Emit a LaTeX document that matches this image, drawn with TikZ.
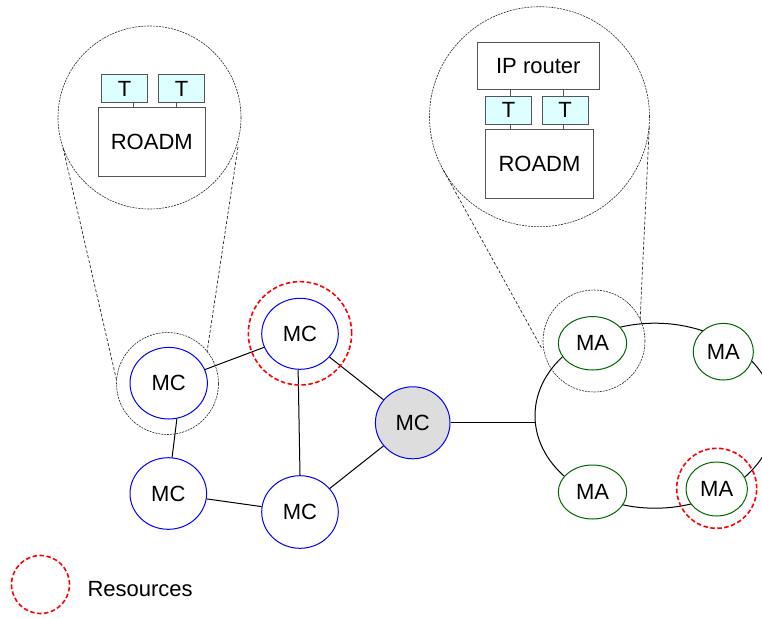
\documentclass[tikz,border=0pt]{standalone}
\usepackage{fontspec}
\setmainfont{Liberation Sans}
\usetikzlibrary{shapes.geometric}
\definecolor{mcblue}{RGB}{0,0,255}
\definecolor{magreen}{RGB}{0,102,0}
\definecolor{tcyan}{RGB}{221,255,255}
\definecolor{boxgray}{RGB}{85,85,85}
\definecolor{mcgray}{RGB}{221,221,221}
\begin{document}
\begin{tikzpicture}[x=1pt,y=-1pt, font=\fontsize{22}{26}\selectfont,
  mc/.style={ellipse, draw=mcblue, line width=1pt, fill=white, inner sep=0pt},
  ma/.style={ellipse, draw=magreen, line width=1pt, fill=white, inner sep=0pt},
  res/.style={circle, draw=red, line width=1.6pt, dash pattern=on 4.5pt off 2.5pt, inner sep=0pt},
  mag/.style={circle, draw=black!85, line width=0.6pt, dash pattern=on 2pt off 1pt, inner sep=0pt},
  magline/.style={draw=black!85, line width=0.7pt, dash pattern=on 3pt off 2pt},
  link/.style={draw=black, line width=1pt},
  thin link/.style={draw=boxgray, line width=0.8pt},
  tbox/.style={rectangle, draw=boxgray, fill=tcyan, line width=0.8pt, minimum width=46.4pt, minimum height=28pt, inner sep=0pt},
  devbox/.style={rectangle, draw=boxgray, fill=white, line width=0.8pt, inner sep=0pt},
]
\useasboundingbox (0,0) rectangle (762,618);
\clip (0,0) rectangle (762,618);

% ring of MA nodes
\node[ellipse, draw=black, line width=1pt, minimum width=240pt, minimum height=185pt, inner sep=0pt] (ring) at (655,415.7) {};
\node[ma, minimum width=68.4pt, minimum height=53.4pt] (MA1) at (592.5,343.3) {MA};
\node[ma, minimum width=60pt, minimum height=56.6pt] (MA2) at (723.3,351.7) {MA};
\node[ma, minimum width=68.4pt, minimum height=54pt] (MA3) at (592.5,492) {MA};
\node[ma, minimum width=61.4pt, minimum height=54pt] (MA4) at (716.7,489) {MA};

% MC nodes
\node[mc, minimum width=77.4pt, minimum height=71.6pt] (MC1) at (168.7,383.2) {MC};
\node[mc, minimum width=76.6pt, minimum height=71pt] (MC2) at (300,333.8) {MC};
\node[mc, fill=mcgray, minimum width=74.6pt, minimum height=72pt] (MC3) at (412.7,422.8) {MC};
\node[mc, minimum width=76.6pt, minimum height=71.6pt] (MC4) at (168.3,493.5) {MC};
\node[mc, minimum width=76.6pt, minimum height=72.6pt] (MC5) at (300,512) {MC};

\draw[link] (MC1) -- (MC2);
\draw[link] (MC1.-77) -- (MC4.84);
\draw[link] (MC2.-93) -- (MC5.90);
\draw[link] (MC2) -- (MC3);
\draw[link] (MC3) -- (MC5);
\draw[link] (MC4) -- (MC5);
\draw[link] (MC3.east) -- (MC3.east -| ring.west);

% small magnifier circles
\node[mag, minimum size=102pt] (zoomL) at (167.5,383.5) {};
\node[mag, minimum size=102pt] (zoomR) at (594,341) {};

% big magnifier circles
\node[mag, minimum size=183pt] (bigL) at (149.5,117.5) {};
\node[mag, minimum size=220pt] (bigR) at (539.5,116.7) {};

% magnifier lines
\coordinate (lA1) at (63,148);   \coordinate (lA2) at (116.5,380);
\coordinate (lB1) at (238,147);  \coordinate (lB2) at (207,352);
\coordinate (rA1) at (443.3,170); \coordinate (rA2) at (541.7,348.3);
\coordinate (rB1) at (649.3,126.7); \coordinate (rB2) at (640,321.7);
\draw[magline] (lA1) -- (lA2);
\draw[magline] (lB1) -- (lB2);
\draw[magline] (rA1) -- (rA2);
\draw[magline] (rB1) -- (rB2);

% left device
\node[devbox, minimum width=107pt, minimum height=69.4pt] (roadmL) at (151.8,142) {ROADM};
\node[tbox] (TL1) at (124.5,88.7) {T};
\node[tbox] (TL2) at (181.5,88.7) {T};
\draw[thin link] ([xshift=9pt]TL1.south) -- ([xshift=9pt]TL1.south |- roadmL.north);
\draw[thin link] ([xshift=-5.5pt]TL2.south) -- ([xshift=-5.5pt]TL2.south |- roadmL.north);

% right device
\node[devbox, minimum width=121.3pt, minimum height=46.6pt] (ipR) at (538.3,66) {IP router};
\node[tbox, minimum height=28.3pt] (TR1) at (508.5,110.2) {T};
\node[tbox, minimum height=28.3pt] (TR2) at (565.2,110.2) {T};
\node[devbox, minimum width=107.6pt, minimum height=69.3pt] (roadmR) at (539.5,163.7) {ROADM};
\draw[thin link] ([xshift=2pt]TR1.north) -- ([xshift=2pt]TR1.north |- ipR.south);
\draw[thin link] ([xshift=-1.5pt]TR2.north) -- ([xshift=-1.5pt]TR2.north |- ipR.south);
\draw[thin link] ([xshift=2pt]TR1.south) -- ([xshift=2pt]TR1.south |- roadmR.north);
\draw[thin link] ([xshift=-1.5pt]TR2.south) -- ([xshift=-1.5pt]TR2.south |- roadmR.north);

% resources
\node[res, minimum size=103.4pt] (resMC) at (300,333.3) {};
\node[res, minimum size=80pt] (resMA) at (716.7,488.3) {};

% legend
\node[res, minimum size=58pt] (legRes) at (40.5,584.5) {};
\node[anchor=base west, inner sep=0pt] (legText) at (87.3,596.7) {Resources};
\end{tikzpicture}
\end{document}
